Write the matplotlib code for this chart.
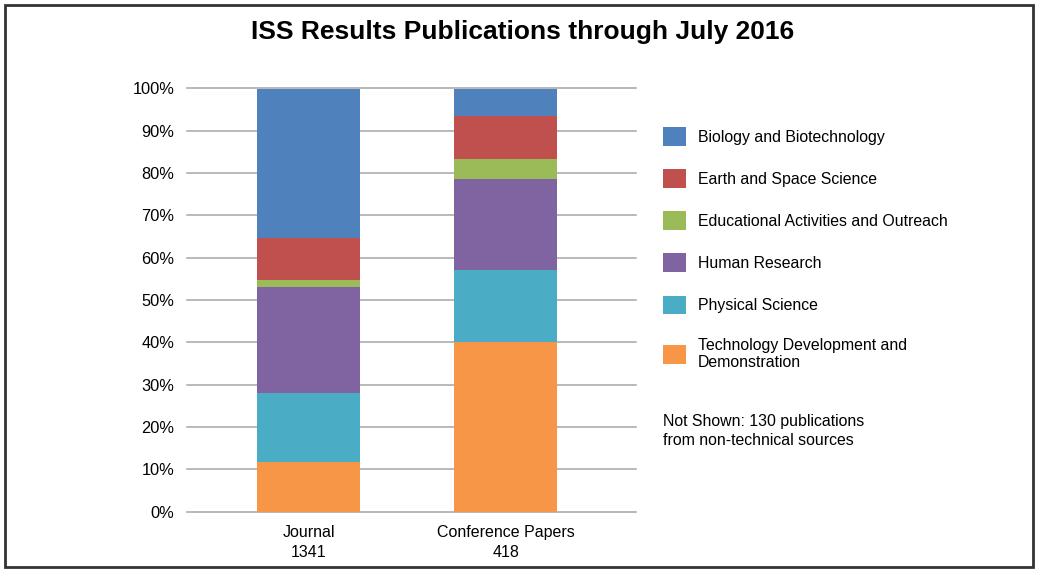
import matplotlib.pyplot as plt
from matplotlib.patches import Rectangle, Patch
import numpy as np

plt.rcParams['font.family'] = ['Liberation Sans', 'DejaVu Sans']

categories = ['Journal\n1341', 'Conference Papers\n418']
series = ['Technology Development and\nDemonstration', 'Physical Science', 'Human Research',
          'Educational Activities and Outreach', 'Earth and Space Science', 'Biology and Biotechnology']
# percent shares, bottom to top
tech = [11.8, 40.1]
phys = [16.2, 17.0]
human = [25.1, 21.5]
edu = [1.6, 4.7]
earth = [10.0, 10.3]
bio = [35.3, 6.4]
colors = ['#F79646', '#4BACC6', '#8064A2', '#9BBB59', '#C0504D', '#4F81BD']
yticks = [0, 10, 20, 30, 40, 50, 60, 70, 80, 90, 100]

fig = plt.figure(figsize=(10.4, 5.69), dpi=100)
ax = fig.add_axes([187/1040, 1-511.5/569, 449/1040, 423/569])

x = np.arange(len(categories))
bottom = np.zeros(len(categories))
for vals, c in zip([tech, phys, human, edu, earth, bio], colors):
    ax.bar(x, vals, bottom=bottom, width=0.523, color=c, zorder=3)
    bottom += np.array(vals)

ax.set_xlim(-0.617, 1.662)
ax.set_ylim(0, 100)
ax.set_yticks(yticks)
ax.set_yticklabels([f'{t}%' for t in yticks], fontsize=11.8)
ax.set_xticks(x)
ax.set_xticklabels(categories, fontsize=11.5, linespacing=1.35)
ax.tick_params(length=0)
ax.tick_params(axis='y', pad=9)
ax.tick_params(axis='x', pad=10)
ax.yaxis.grid(True, color='#a6a6a6', linewidth=1.1, zorder=0)
for gl in ax.get_ygridlines():
    gl.set_clip_on(False)
ax.set_axisbelow(True)
for s in ax.spines.values():
    s.set_visible(False)

# legend, top entry first
handles = [Patch(facecolor=c) for c in colors][::-1]
leg = fig.legend(handles, series[::-1], loc='upper left', bbox_to_anchor=(663/1040, 1-127/569),
                 frameon=False, fontsize=11.4, handlelength=1.44, handleheight=1.44,
                 labelspacing=1.48, handletextpad=0.75, borderpad=0, borderaxespad=0)

fig.text(663/1040, 1-431/569, 'Not Shown: 130 publications\nfrom non-technical sources',
         fontsize=11.4, va='center', ha='left', linespacing=1.3)

fig.text(523/1040, 1-32/569, 'ISS Results Publications through July 2016',
         fontsize=19, fontweight='bold', ha='center', va='center')

fig.patches.append(Rectangle((5/1040, 2/569), 1028/1040, 562/569, transform=fig.transFigure,
                             fill=False, edgecolor='#333333', linewidth=2))

fig.savefig('out.png', dpi=100)
